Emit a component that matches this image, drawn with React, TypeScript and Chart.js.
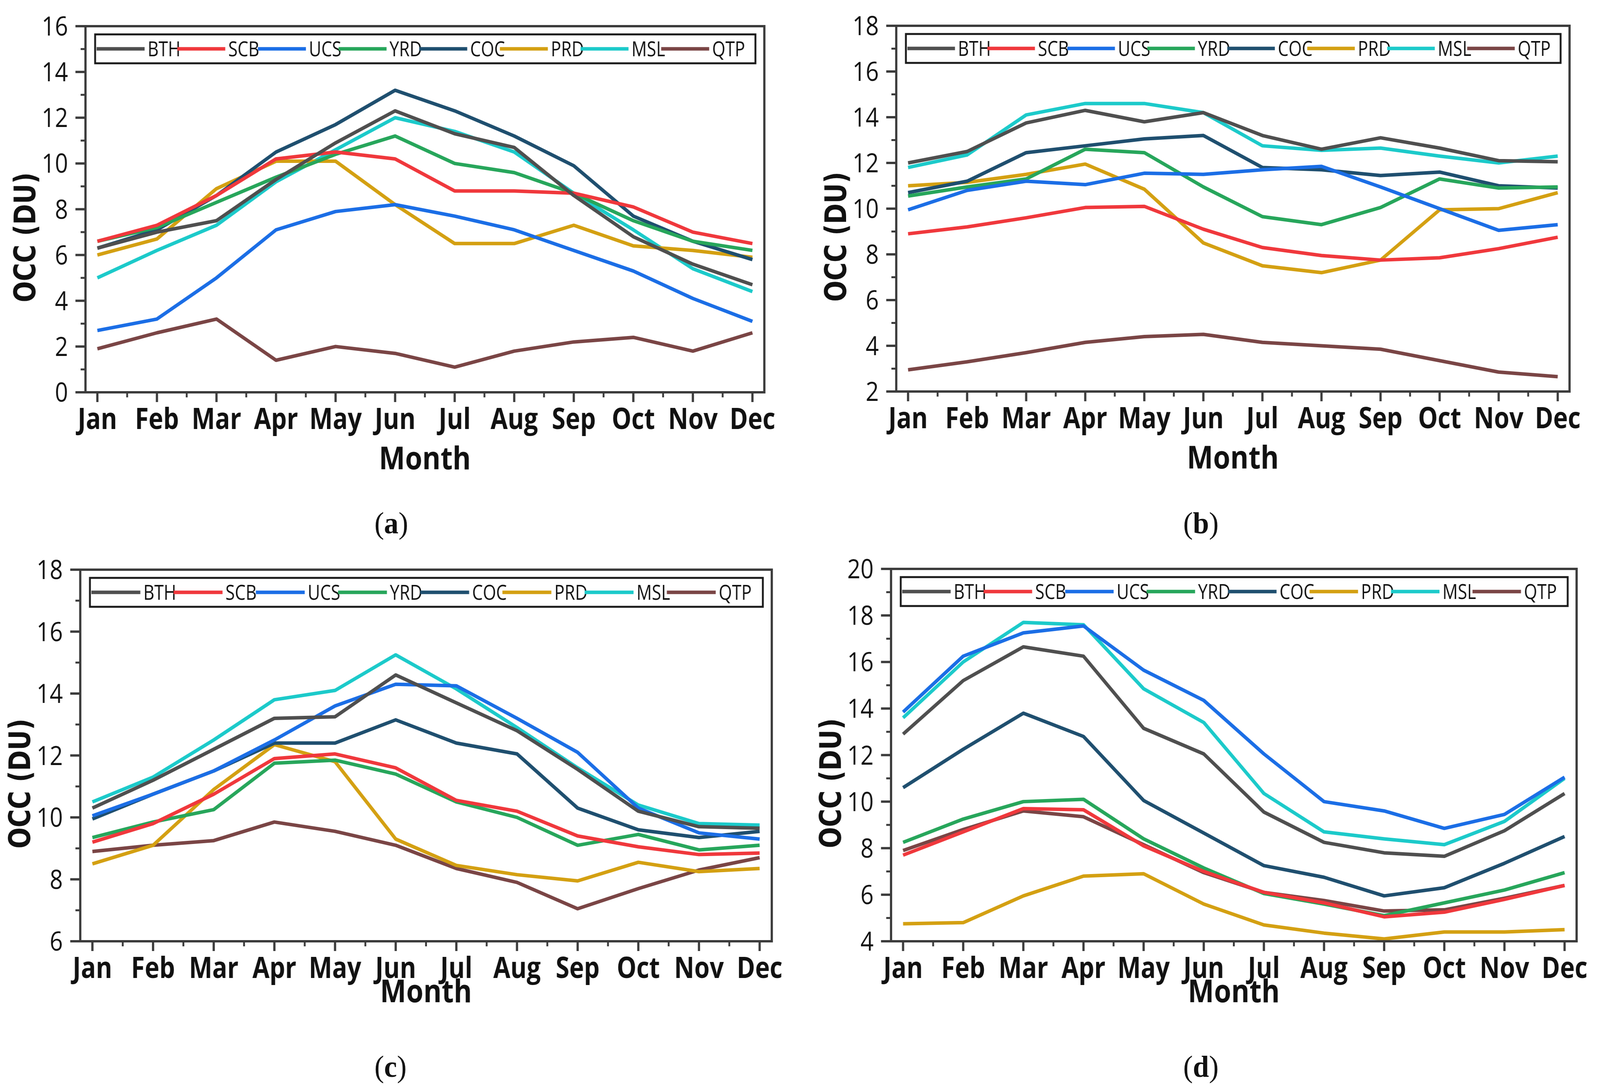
import React, { useEffect, useRef } from 'react';
import { Chart, registerables } from 'chart.js';

Chart.register(...registerables);

const MONTHS = ['Jan', 'Feb', 'Mar', 'Apr', 'May', 'Jun', 'Jul', 'Aug', 'Sep', 'Oct', 'Nov', 'Dec'];
const REGIONS = ['BTH', 'SCB', 'UCS', 'YRD', 'COC', 'PRD', 'MSL', 'QTP'];
const COLORS = ['#4f4f4f', '#f0383c', '#1b6ee6', '#27a65b', '#1f4f6f', '#d4a012', '#1ccaca', '#7a4545'];

// (a)
const A_BTH = [6.3, 7.0, 7.5, 9.3, 10.9, 12.3, 11.3, 10.7, 8.6, 6.8, 5.6, 4.7];
const A_SCB = [6.6, 7.3, 8.6, 10.2, 10.5, 10.2, 8.8, 8.8, 8.7, 8.1, 7.0, 6.5];
const A_UCS = [2.7, 3.2, 5.0, 7.1, 7.9, 8.2, 7.7, 7.1, 6.2, 5.3, 4.1, 3.1];
const A_YRD = [6.6, 7.2, 8.3, 9.4, 10.4, 11.2, 10.0, 9.6, 8.7, 7.5, 6.6, 6.2];
const A_COC = [6.3, 7.1, 8.6, 10.5, 11.7, 13.2, 12.3, 11.2, 9.9, 7.7, 6.6, 5.8];
const A_PRD = [6.0, 6.7, 8.9, 10.1, 10.1, 8.2, 6.5, 6.5, 7.3, 6.4, 6.2, 5.9];
const A_MSL = [5.0, 6.2, 7.3, 9.2, 10.6, 12.0, 11.4, 10.5, 8.7, 7.1, 5.4, 4.4];
const A_QTP = [1.9, 2.6, 3.2, 1.4, 2.0, 1.7, 1.1, 1.8, 2.2, 2.4, 1.8, 2.6];

// (b)
const B_BTH = [12.0, 12.5, 13.75, 14.3, 13.8, 14.2, 13.2, 12.6, 13.1, 12.65, 12.1, 12.05];
const B_SCB = [8.9, 9.2, 9.6, 10.05, 10.1, 9.1, 8.3, 7.95, 7.75, 7.85, 8.25, 8.75];
const B_UCS = [9.95, 10.8, 11.2, 11.05, 11.55, 11.5, 11.7, 11.85, 10.95, 10.0, 9.05, 9.3];
const B_YRD = [10.55, 10.95, 11.3, 12.6, 12.45, 10.95, 9.65, 9.3, 10.05, 11.3, 10.9, 10.95];
const B_COC = [10.7, 11.2, 12.45, 12.75, 13.05, 13.2, 11.8, 11.7, 11.45, 11.6, 11.0, 10.9];
const B_PRD = [11.0, 11.15, 11.5, 11.95, 10.85, 8.5, 7.5, 7.2, 7.75, 9.95, 10.0, 10.7];
const B_MSL = [11.8, 12.35, 14.1, 14.6, 14.6, 14.2, 12.75, 12.55, 12.65, 12.3, 12.0, 12.3];
const B_QTP = [2.95, 3.3, 3.7, 4.15, 4.4, 4.5, 4.15, 4.0, 3.85, 3.35, 2.85, 2.65];

// (c)
const C_BTH = [10.3, 11.2, 12.2, 13.2, 13.25, 14.6, 13.7, 12.8, 11.55, 10.2, 9.7, 9.65];
const C_SCB = [9.2, 9.8, 10.75, 11.9, 12.05, 11.6, 10.55, 10.2, 9.4, 9.05, 8.8, 8.85];
const C_UCS = [10.05, 10.75, 11.5, 12.5, 13.6, 14.3, 14.25, 13.2, 12.1, 10.3, 9.5, 9.3];
const C_YRD = [9.35, 9.85, 10.25, 11.75, 11.85, 11.4, 10.5, 10.0, 9.1, 9.45, 8.95, 9.1];
const C_COC = [9.95, 10.75, 11.5, 12.4, 12.4, 13.15, 12.4, 12.05, 10.3, 9.6, 9.35, 9.55];
const C_PRD = [8.5, 9.1, 10.9, 12.35, 11.8, 9.3, 8.45, 8.15, 7.95, 8.55, 8.25, 8.35];
const C_MSL = [10.5, 11.3, 12.5, 13.8, 14.1, 15.25, 14.15, 12.9, 11.6, 10.4, 9.8, 9.75];
const C_QTP = [8.9, 9.1, 9.25, 9.85, 9.55, 9.1, 8.35, 7.9, 7.05, 7.7, 8.3, 8.7];

// (d)
const D_BTH = [12.9, 15.2, 16.65, 16.25, 13.15, 12.05, 9.55, 8.25, 7.8, 7.65, 8.75, 10.35];
const D_SCB = [7.7, 8.7, 9.7, 9.65, 8.1, 7.0, 6.1, 5.65, 5.05, 5.25, 5.8, 6.4];
const D_UCS = [13.85, 16.25, 17.25, 17.55, 15.65, 14.35, 12.05, 10.0, 9.6, 8.85, 9.45, 11.05];
const D_YRD = [8.25, 9.25, 10.0, 10.1, 8.4, 7.15, 6.05, 5.6, 5.1, 5.65, 6.2, 6.95];
const D_COC = [10.6, 12.25, 13.8, 12.8, 10.05, 8.65, 7.25, 6.75, 5.95, 6.3, 7.35, 8.5];
const D_PRD = [4.75, 4.8, 5.95, 6.8, 6.9, 5.6, 4.7, 4.35, 4.1, 4.4, 4.4, 4.5];
const D_MSL = [13.6, 16.0, 17.7, 17.6, 14.85, 13.4, 10.35, 8.7, 8.4, 8.15, 9.15, 11.0];
const D_QTP = [7.9, 8.8, 9.6, 9.35, 8.15, 6.95, 6.1, 5.75, 5.3, 5.35, 5.85, 6.4];

const Y_TITLE = 'OCC (DU)';
const X_TITLE = 'Month';

const SANS = '"Open Sans", "Noto Sans", sans-serif';
const WIDE = '"DejaVu Sans", Verdana, sans-serif';
const INK = '#111111';
const AXIS = '#3c3c3c';
const PAGE_W = 4306;
const PAGE_H = 2782;

type Panel = {
  id: string;
  series: number[][];
  yMin: number;
  yMax: number;
  cv: { x: number; y: number; w: number; h: number };
  area: { l: number; t: number; r: number; b: number };
  monthGap: number;
  cap: { x: number; y: number };
};

const PANELS: Panel[] = [
  { id: 'a', series: [A_BTH, A_SCB, A_UCS, A_YRD, A_COC, A_PRD, A_MSL, A_QTP], yMin: 0, yMax: 16,
    cv: { x: 0, y: 0, w: 2153, h: 1391 }, area: { l: 230, t: 67, r: 2057, b: 1004 }, monthGap: 197, cap: { x: 1053, y: 1339 } },
  { id: 'b', series: [B_BTH, B_SCB, B_UCS, B_YRD, B_COC, B_PRD, B_MSL, B_QTP], yMin: 2, yMax: 18,
    cv: { x: 2153, y: 0, w: 2153, h: 1391 }, area: { l: 2412, t: 66, r: 4224, b: 1002 }, monthGap: 197, cap: { x: 3232, y: 1339 } },
  { id: 'c', series: [C_BTH, C_SCB, C_UCS, C_YRD, C_COC, C_PRD, C_MSL, C_QTP], yMin: 6, yMax: 18,
    cv: { x: 0, y: 1391, w: 2153, h: 1391 }, area: { l: 216, t: 1458, r: 2077, b: 2409 }, monthGap: 156, cap: { x: 1051, y: 2730 } },
  { id: 'd', series: [D_BTH, D_SCB, D_UCS, D_YRD, D_COC, D_PRD, D_MSL, D_QTP], yMin: 4, yMax: 20,
    cv: { x: 2153, y: 1391, w: 2153, h: 1391 }, area: { l: 2398, t: 1456, r: 4243, b: 2409 }, monthGap: 156, cap: { x: 3232, y: 2730 } },
];

function inkWidth(ctx: CanvasRenderingContext2D, font: string, text: string) {
  ctx.font = font;
  const m = ctx.measureText(text);
  const w = (m.actualBoundingBoxLeft || 0) + (m.actualBoundingBoxRight || 0);
  return w > 0 ? w : m.width;
}

function drawText(ctx: CanvasRenderingContext2D, text: string, x: number, y: number, font: string,
  sx: number, align: CanvasTextAlign, baseline: CanvasTextBaseline = 'alphabetic') {
  ctx.save();
  ctx.font = font;
  ctx.translate(x, y);
  ctx.scale(sx, 1);
  ctx.textAlign = align;
  ctx.textBaseline = baseline;
  ctx.fillText(text, 0, 0);
  ctx.restore();
}

const F_MONTH = `bold 76px ${SANS}`;
const F_YTICK = `67px ${SANS}`;
const F_LEG = `53px ${SANS}`;
const F_XTITLE = `bold 81px ${SANS}`;
const F_YTITLE = `bold 80px ${WIDE}`;

const decorPlugin = (p: Panel) => ({
  id: 'decor' + p.id,
  afterDatasetsDraw(chart: any) {
    const { ctx, chartArea: ca, scales } = chart;
    const xs = scales.x;
    const ys = scales.y;
    ctx.save();
    ctx.strokeStyle = AXIS;
    ctx.lineCap = 'butt';
    // y tick marks (major + minor)
    for (let v = p.yMin; v <= p.yMax + 1e-6; v += 1) {
      const py = ys.getPixelForValue(v);
      const major = Math.round(v - p.yMin) % 2 === 0;
      ctx.lineWidth = major ? 6 : 5;
      ctx.beginPath();
      ctx.moveTo(ca.left, py);
      ctx.lineTo(ca.left - (major ? 27 : 13), py);
      ctx.stroke();
    }
    // x tick marks (months + half months)
    for (let k = 0; k <= 22; k++) {
      const px = xs.getPixelForValue(k / 2);
      const major = k % 2 === 0;
      ctx.lineWidth = major ? 6 : 5;
      ctx.beginPath();
      ctx.moveTo(px, ca.bottom);
      ctx.lineTo(px, ca.bottom + (major ? 25 : 13));
      ctx.stroke();
    }
    // frame
    ctx.lineWidth = 6;
    ctx.strokeRect(ca.left, ca.top, ca.right - ca.left, ca.bottom - ca.top);

    ctx.fillStyle = INK;
    // y tick labels
    const sY = 63 / inkWidth(ctx, F_YTICK, '16');
    ys.ticks.forEach((t: any) => {
      const py = ys.getPixelForValue(t.value);
      drawText(ctx, String(t.value), ca.left - 47, py + 24, F_YTICK, sY, 'right');
    });
    // x tick labels
    const sM = 236 / (inkWidth(ctx, F_MONTH, 'Jan') + inkWidth(ctx, F_MONTH, 'Nov'));
    xs.ticks.forEach((t: any) => {
      const label = MONTHS[Math.round(t.value)];
      if (!label) return;
      drawText(ctx, label, xs.getPixelForValue(t.value), ca.bottom + 94, F_MONTH, sM, 'center');
    });

    // legend
    const bl = ca.left + 26;
    const br = ca.right - 24;
    const bt = ca.top + 21;
    const bh = 74;
    const bw = br - bl;
    ctx.fillStyle = '#ffffff';
    ctx.fillRect(bl, bt, bw, bh);
    ctx.strokeStyle = '#1a1a1a';
    ctx.lineWidth = 5;
    ctx.strokeRect(bl, bt, bw, bh);
    const pitch = (bw - 8) / 8.15;
    const my = bt + bh / 2;
    const sL = 80 / inkWidth(ctx, F_LEG, 'BTH');
    chart.data.datasets.forEach((ds: any, i: number) => {
      const x0 = bl + 4 + i * pitch;
      const x1 = x0 + 0.595 * pitch;
      ctx.strokeStyle = ds.borderColor;
      ctx.lineWidth = 9;
      ctx.beginPath();
      ctx.moveTo(x0, my);
      ctx.lineTo(x1, my);
      ctx.stroke();
      ctx.fillStyle = INK;
      drawText(ctx, ds.label, x1 + 8, my + 19, F_LEG, sL, 'left');
    });

    // axis titles
    ctx.fillStyle = INK;
    const sX = 236 / inkWidth(ctx, F_XTITLE, X_TITLE);
    drawText(ctx, X_TITLE, (ca.left + ca.right) / 2, ca.bottom + p.monthGap, F_XTITLE, sX, 'center');

    const sT = 325 / inkWidth(ctx, F_YTITLE, Y_TITLE);
    ctx.save();
    ctx.translate(ca.left - 156, (ca.top + ca.bottom) / 2 + 72);
    ctx.rotate(-Math.PI / 2);
    ctx.scale(sT, 1);
    ctx.font = F_YTITLE;
    ctx.textAlign = 'center';
    ctx.textBaseline = 'middle';
    ctx.fillText(Y_TITLE, 0, 0);
    ctx.restore();

    ctx.restore();
  },
});

function PanelChart({ p }: { p: Panel }) {
  const ref = useRef<HTMLCanvasElement | null>(null);
  useEffect(() => {
    if (!ref.current) return;
    const yW = p.area.l - p.cv.x;
    const xH = p.cv.y + p.cv.h - p.area.b;
    const chart = new Chart(ref.current, {
      type: 'line',
      data: {
        datasets: REGIONS.map((name, i) => ({
          label: name,
          data: p.series[i].map((v, k) => ({ x: k, y: v })),
          borderColor: COLORS[i],
          backgroundColor: COLORS[i],
          borderWidth: 9,
          pointRadius: 0,
          tension: 0,
          borderJoinStyle: 'round' as const,
          fill: false,
        })),
      },
      options: {
        animation: false,
        responsive: false,
        layout: { padding: { top: p.area.t - p.cv.y, right: p.cv.x + p.cv.w - p.area.r, left: 0, bottom: 0 } },
        plugins: { legend: { display: false }, tooltip: { enabled: false }, title: { display: false } },
        scales: {
          x: {
            type: 'linear',
            min: -0.2,
            max: 11.2,
            grid: { display: false, drawTicks: false },
            border: { display: false },
            afterBuildTicks: (s: any) => { s.ticks = MONTHS.map((_, k) => ({ value: k })); },
            afterFit: (s: any) => { s.height = xH; },
            ticks: { display: false, autoSkip: false, maxRotation: 0 },
          },
          y: {
            type: 'linear',
            min: p.yMin,
            max: p.yMax,
            grid: { display: false, drawTicks: false },
            border: { display: false },
            afterFit: (s: any) => { s.width = yW; },
            ticks: { display: false, stepSize: 2 },
          },
        },
      },
      plugins: [decorPlugin(p)],
    } as any);
    return () => chart.destroy();
  }, [p]);
  return (
    <canvas
      ref={ref}
      width={p.cv.w}
      height={p.cv.h}
      style={{ position: 'absolute', left: p.cv.x, top: p.cv.y, width: p.cv.w, height: p.cv.h }}
    />
  );
}

export default function App() {
  const iw = typeof window !== 'undefined' ? window.innerWidth : PAGE_W;
  const ih = typeof window !== 'undefined' ? window.innerHeight : PAGE_H;
  const sx = iw / PAGE_W;
  const sy = ih / PAGE_H;
  return (
    <div
      style={{
        position: 'absolute', left: 0, top: 0, width: PAGE_W, height: PAGE_H, background: '#ffffff',
        transformOrigin: '0 0', transform: `scale(${sx}, ${sy})`,
      }}
    >
      {PANELS.map((p) => (
        <React.Fragment key={p.id}>
          <PanelChart p={p} />
          <div
            style={{
              position: 'absolute',
              left: p.cap.x - 200,
              top: p.cap.y - 45,
              width: 400,
              textAlign: 'center',
              fontFamily: '"Liberation Serif", "DejaVu Serif", serif',
              fontSize: 78,
              lineHeight: '90px',
              color: '#111',
            }}
          >
            (<b>{p.id}</b>)
          </div>
        </React.Fragment>
      ))}
    </div>
  );
}
